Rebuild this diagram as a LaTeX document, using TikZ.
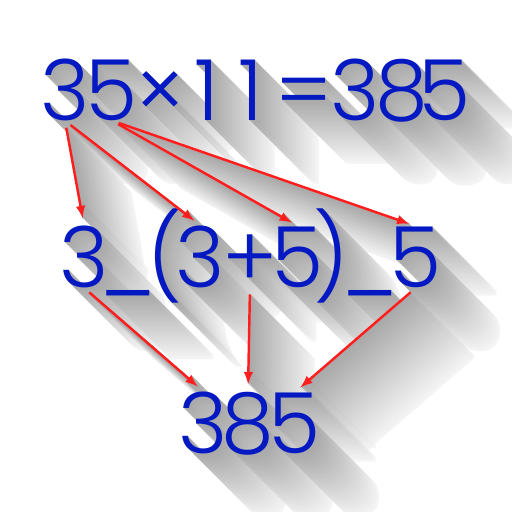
\documentclass[tikz,border=0pt]{standalone}
\usepackage{fontspec}
\usepackage{xcolor}
\newfontfamily\digitfont{Poppins Light}
\definecolor{numblue}{RGB}{5,25,195}
\definecolor{numcol}{RGB}{5,25,195}
\definecolor{arrcol}{RGB}{255,30,30}

\tikzset{
  num/.style={text=numcol, inner sep=0pt, anchor=base,
    font=\digitfont\fontsize{48}{50}\selectfont},
  arr/.style={-latex, draw=arrcol, line width=1.4pt,
    shorten <=4pt, shorten >=4pt}
}

% all numbers and arrows, drawn once per shadow step and once in colour
\newcommand\drawsum{%
% Top row
\node[num] (t1) at (65,120) {3};
\node[num] (t2) at (112,120) {5};
\node[num] (t3) at (160,120) {×};
\node[num] (t4) at (207,120) {1};
\node[num] (t5) at (251,120) {1};
\node[num] (t6) at (304,120) {=};
\node[num] (t7) at (355,120) {3};
\node[num] (t8) at (402,120) {8};
\node[num] (t9) at (445,120) {5};
% Middle row
\node[num] (m1) at (84,287) {3};
\node[num] (m2) at (128,287) {\_};
\node[num] (m3) at (165,287) {(};
\node[num] (m4) at (200,287) {3};
\node[num] (m5) at (250,287) {+};
\node[num] (m6) at (298,287) {5};
\node[num] (m7) at (331,287) {)};
\node[num] (m8) at (370,287) {\_};
\node[num] (m9) at (416,287) {5};
% Result
\node[num] (r1) at (203,453) {3};
\node[num] (r2) at (248,453) {8};
\node[num] (r3) at (295,453) {5};
% Arrows
\draw[arr] (t1.south) -- (m1.north);
\draw[arr] (t1.south) -- (m4.north);
\draw[arr] (t2.south) -- (m6.north);
\draw[arr] (t2.south) -- (m9.north);
\draw[arr] (m1.south) -- (r1.north);
\draw[arr] (m5.south) -- (r2.north);
\draw[arr] (m9.south) -- (r3.north);
}

\begin{document}
\begin{tikzpicture}[x=0.02cm, y=-0.02cm]
\useasboundingbox (0,0) rectangle (512,512);
% Long shadows
\foreach \k in {64,63,...,1} {
  \pgfmathsetmacro\g{4+30*(1-\k/64)}
  \colorlet{numcol}{black!\g}
  \colorlet{arrcol}{black!\g}
  \begin{scope}[shift={(\k,\k)}]
    \drawsum
  \end{scope}
}
% Numbers on top
\colorlet{numcol}{numblue}
\definecolor{arrcol}{RGB}{255,30,30}
\drawsum
\end{tikzpicture}
\end{document}
